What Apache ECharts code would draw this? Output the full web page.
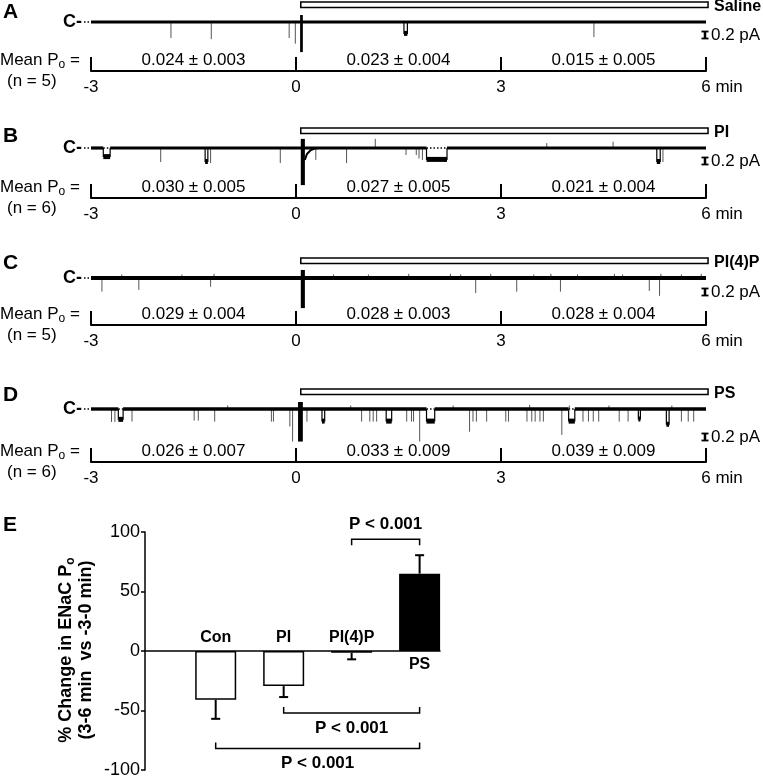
<!DOCTYPE html>
<html><head><meta charset="utf-8">
<script src="https://cdn.jsdelivr.net/npm/echarts@6/dist/echarts.min.js"></script>
<style>html,body{margin:0;padding:0;background:#fff}#c{width:763px;height:779px}</style>
</head><body><div id="c"></div>
<script>
// ================= DATA =================
const panelLetters = ['A', 'B', 'C', 'D'];
const solutions = ['Saline', 'PI', 'PI(4)P', 'PS'];
const nCells = [5, 6, 5, 6];
const periodMidTimes = [-1.5, 1.5, 4.5];           // min
const meanPoSaline = ['0.024 ± 0.003', '0.023 ± 0.004', '0.015 ± 0.005'];
const meanPoPI     = ['0.030 ± 0.005', '0.027 ± 0.005', '0.021 ± 0.004'];
const meanPoPI4P   = ['0.029 ± 0.004', '0.028 ± 0.003', '0.028 ± 0.004'];
const meanPoPS     = ['0.026 ± 0.007', '0.033 ± 0.009', '0.039 ± 0.009'];
const solutionPeriod = [0.07, 6.03];                 // min
const scaleBarPA = 0.2;

// brief openings: [time (min), amplitude (pA, negative = upward)]
const spikesSaline = [[-1.83,0.46],[-1.24,0.49],[-0.10,0.46],[-0.01,0.62],[4.36,0.43]];
const spikesPI = [[-1.98,0.40],[-1.25,0.43],[-0.23,0.43],[0.29,0.34],[0.74,0.43],[1.16,-0.26],[1.61,0.20],[1.76,0.20],[1.80,0.30],[1.85,0.34],[3.67,-0.14],[4.64,-0.18],[5.37,0.40]];
const spikesPI4P = [[-2.84,0.39],[-2.30,0.34],[-1.25,0.25],[2.63,0.43],[3.23,0.39],[3.87,0.39],[5.17,0.37],[5.32,0.51],
  [-2.55,-0.10],[-1.67,-0.10],[-1.20,-0.12],[0.55,-0.10],[1.06,-0.10],[1.65,-0.12],[2.26,-0.12],[2.41,-0.10],[2.85,-0.12],[3.48,-0.10],[3.73,-0.12],[4.12,-0.10],[4.66,-0.12],[4.78,-0.10],[5.34,-0.12],[5.64,-0.10],[5.93,-0.12]];
const spikesPS = [[-2.70,0.37],[-2.65,0.37],[-2.40,0.36],[-1.49,0.33],[-1.43,0.33],[-1.19,0.36],[-0.36,0.36],[-0.33,0.36],[-0.09,0.50],[-0.05,0.93],[0.16,0.36],[0.96,0.36],[1.08,0.36],[1.13,0.36],[1.18,0.36],[1.62,0.36],[1.69,0.36],[1.72,0.36],[1.81,0.93],[2.54,0.65],[2.59,0.36],[2.64,0.36],[2.79,0.36],[3.07,0.36],[3.11,0.36],[3.38,0.36],[3.45,0.36],[3.50,0.36],[3.57,0.36],[3.62,0.36],[3.89,0.74],[4.20,0.36],[4.28,0.36],[4.35,0.36],[4.43,0.36],[4.73,0.36],[4.86,0.36],[5.64,0.36],[5.74,0.36],[5.82,0.36],
  [-1.00,-0.10],[0.80,-0.10],[2.30,-0.10],[3.42,-0.12],[4.00,-0.10],[4.58,-0.10],[5.50,-0.10]];
// longer openings: [start (min), end (min), amplitude (pA), closed level shown dotted (1/0)]
const blocksSaline = [[1.58,1.63,0.34,0]];
const blocksPI = [[-2.82,-2.72,0.26,1],[-1.33,-1.29,0.40,0],[1.91,2.21,0.34,1],[5.28,5.33,0.40,0]];
const blocksPI4P = [];
const blocksPS = [[-2.60,-2.53,0.31,1],[0.38,0.42,0.36,0],[1.32,1.40,0.36,0],[1.91,2.03,0.36,1],[3.99,4.08,0.36,1],[5.01,5.04,0.30,0],[5.42,5.46,0.45,0]];
// perfusion artifact: [start, end, upward extent (pA), downward extent (pA)]
const artifactSaline = [0.06,0.10,0.20,0.86];
const artifactPI = [0.07,0.13,0.26,1.06];
const artifactPI4P = [0.07,0.13,0.23,0.86];
const artifactPS = [0.03,0.10,0.20,0.93];
// capacitive decay after artifact (PI only): [time, amplitude]
const tailPI = [[0.13,0.34],[0.16,0.17],[0.21,0.07],[0.28,0.01],[0.35,0]];

// Panel E
const groups = ['Con', 'PI', 'PI(4)P', 'PS'];
const groupPos = [1, 2, 3, 4];
const pctChange = [-41, -29.5, -1.5, 65];
const pctSEM = [16, 9.2, 5.5, 15.5];
const comparisons = [[3, 4], [2, 4], [1, 4]];
const comparisonP = ['P < 0.001', 'P < 0.001', 'P < 0.001'];
const bracketLevels = [94, -52, -82];

// ================= LAYOUT / STYLE =================
const FONT = "'Liberation Sans', Arial, Helvetica, sans-serif";
const PX_PER_PA = 35;
const layout = [
  {base: 22,  axis: 71,  scaleY: 35,  letterY: 12, noise: 3.2},
  {base: 148, axis: 198, scaleY: 161, letterY: 136, noise: 3.2},
  {base: 278, axis: 325, scaleY: 292, letterY: 263, noise: 3.8},
  {base: 409, axis: 462, scaleY: 437, letterY: 395, noise: 3.4}
];
const panels = [
  {meanPo: meanPoSaline, spikes: spikesSaline, blocks: blocksSaline, artifact: artifactSaline, tail: null},
  {meanPo: meanPoPI, spikes: spikesPI, blocks: blocksPI, artifact: artifactPI, tail: tailPI},
  {meanPo: meanPoPI4P, spikes: spikesPI4P, blocks: blocksPI4P, artifact: artifactPI4P, tail: null},
  {meanPo: meanPoPS, spikes: spikesPS, blocks: blocksPS, artifact: artifactPS, tail: null}
];

function txt(text, extra) {
  return Object.assign({text: text, fill: '#000', fontFamily: FONT, fontSize: 17}, extra || {});
}
function baselineSegments(blocks) {
  const segs = []; let s = -3;
  blocks.filter(b => b[3] === 1).sort((a, b) => a[0] - b[0]).forEach(b => { segs.push([s, b[0]]); s = b[1]; });
  segs.push([s, 6]);
  return segs;
}
const MID = {align: 'left', verticalAlign: 'middle', textAlign: 'left', textVerticalAlign: 'middle'};
const CEN = {align: 'center', verticalAlign: 'middle', textAlign: 'center', textVerticalAlign: 'middle'};

const grids = [], xAxes = [], yAxes = [], series = [], graphics = [];

panels.forEach((p, i) => {
  const L = layout[i];
  const top = L.base - 22;
  grids.push({left: 91, width: 615, top: top, height: L.axis - top});
  xAxes.push({
    gridIndex: i, type: 'value', min: -3, max: 6, interval: 3, position: 'bottom',
    axisLine: {onZero: false, lineStyle: {color: '#000', width: 2}},
    axisTick: {inside: true, length: 14, lineStyle: {color: '#000', width: 2}},
    axisLabel: {color: '#000', fontSize: 17, fontFamily: FONT, margin: 8,
      formatter: v => v === 6 ? '{m|6 min}' : String(v),
      rich: {m: {fontSize: 17, fontFamily: FONT, color: '#000', padding: [0, 0, 0, 32]}}},
    splitLine: {show: false}
  });
  yAxes.push({gridIndex: i, type: 'value', show: false,
    min: -(L.axis - L.base) / PX_PER_PA, max: 22 / PX_PER_PA});

  const ax = {xAxisIndex: i, yAxisIndex: i, coordinateSystem: 'cartesian2d', silent: true};
  // spikes
  series.push(Object.assign({type: 'custom', z: 2, data: p.spikes,
    renderItem: (params, api) => {
      const a = api.coord([api.value(0), 0]), b = api.coord([api.value(0), -api.value(1)]);
      return {type: 'line', shape: {x1: a[0], y1: a[1], x2: b[0], y2: b[1]}, style: {stroke: '#555', lineWidth: 1}};
    }}, ax));
  // baseline (closed level)
  series.push(Object.assign({type: 'custom', z: 3, data: baselineSegments(p.blocks),
    renderItem: (params, api) => {
      const a = api.coord([api.value(0), 0]), b = api.coord([api.value(1), 0]);
      return {type: 'line', shape: {x1: a[0], y1: a[1], x2: b[0], y2: b[1]}, style: {stroke: '#000', lineWidth: L.noise}};
    }}, ax));
  // long openings
  series.push(Object.assign({type: 'custom', z: 3, data: p.blocks,
    renderItem: (params, api) => {
      const t1 = api.value(0), t2 = api.value(1), d = api.value(2), dotted = api.value(3);
      const a0 = api.coord([t1, 0]), a1 = api.coord([t1, -d]), b0 = api.coord([t2, 0]), b1 = api.coord([t2, -d]);
      const ch = [
        {type: 'line', shape: {x1: a0[0], y1: a0[1], x2: a1[0], y2: a1[1]}, style: {stroke: '#000', lineWidth: 1.2}},
        {type: 'line', shape: {x1: b0[0], y1: b0[1], x2: b1[0], y2: b1[1]}, style: {stroke: '#000', lineWidth: 1.2}},
        {type: 'rect', shape: {x: a1[0], y: a1[1] - 3, width: Math.max(b1[0] - a1[0], 2), height: 5}, style: {fill: '#000'}}
      ];
      if (dotted) ch.push({type: 'line', shape: {x1: a0[0], y1: a0[1], x2: b0[0], y2: b0[1]}, style: {stroke: '#000', lineWidth: 1.5, lineDash: [1.5, 2]}});
      return {type: 'group', children: ch};
    }}, ax));
  // perfusion artifact
  series.push(Object.assign({type: 'custom', z: 4, data: [p.artifact],
    renderItem: (params, api) => {
      const a = api.coord([api.value(0), api.value(2)]), b = api.coord([api.value(1), -api.value(3)]);
      return {type: 'rect', shape: {x: a[0], y: a[1], width: b[0] - a[0], height: b[1] - a[1]}, style: {fill: '#000'}};
    }}, ax));
  if (p.tail) series.push(Object.assign({type: 'line', z: 4, data: p.tail.map(q => [q[0], -q[1]]),
    symbol: 'none', lineStyle: {color: '#000', width: 2}}, ax));
  // solution application bar + scale bar
  series.push(Object.assign({type: 'custom', z: 5, data: [solutionPeriod],
    renderItem: (params, api) => {
      const a = api.coord([api.value(0), 0]), b = api.coord([api.value(1), 0]);
      const h = api.size([0, scaleBarPA])[1];
      const sx = api.coord([6, 0])[0] - 1, cy = L.scaleY;
      return {type: 'group', children: [
        {type: 'rect', shape: {x: a[0], y: a[1] - 20, width: b[0] - a[0], height: 5.5}, style: {fill: '#fff', stroke: '#000', lineWidth: 1.5}},
        {type: 'text', x: b[0] + 6, y: a[1] - 15, style: txt(solutions[i], Object.assign({fontSize: 16, fontWeight: 'bold'}, MID))},
        {type: 'line', shape: {x1: sx, y1: cy - h / 2, x2: sx, y2: cy + h / 2}, style: {stroke: '#000', lineWidth: 2.5}},
        {type: 'line', shape: {x1: sx - 3.5, y1: cy - h / 2, x2: sx + 3.5, y2: cy - h / 2}, style: {stroke: '#000', lineWidth: 1.8}},
        {type: 'line', shape: {x1: sx - 3.5, y1: cy + h / 2, x2: sx + 3.5, y2: cy + h / 2}, style: {stroke: '#000', lineWidth: 1.8}},
        {type: 'text', x: sx + 6, y: cy, style: txt(scaleBarPA + ' pA', MID)}
      ]};
    }}, ax));
  // mean Po values
  series.push(Object.assign({type: 'custom', z: 5, data: periodMidTimes.map(t => [t, 0]),
    renderItem: (params, api) => {
      const a = api.coord([api.value(0), 0]);
      return {type: 'text', x: a[0], y: L.axis - 11, style: txt(p.meanPo[params.dataIndex], CEN)};
    }}, ax));

  // static texts
  graphics.push({type: 'text', x: 3, y: L.letterY, style: txt(panelLetters[i], Object.assign({fontSize: 21, fontWeight: 'bold'}, MID))});
  graphics.push({type: 'text', x: 82, y: L.base, style: txt('C-', {fontSize: 18, fontWeight: 'bold', align: 'right', verticalAlign: 'middle', textAlign: 'right', textVerticalAlign: 'middle'})});
  graphics.push({type: 'line', shape: {x1: 84, y1: L.base, x2: 91, y2: L.base}, style: {stroke: '#000', lineWidth: 1.5, lineDash: [1.5, 2]}});
  graphics.push({type: 'text', x: 0, y: L.axis - 11, style: txt('Mean P{s|o} =', Object.assign({
    rich: {s: {fontSize: 12, fontFamily: FONT, fill: '#000', lineHeight: 12, padding: [10, 0, 0, 0]}}}, MID))});
  graphics.push({type: 'text', x: 7, y: L.axis + 10, style: txt('(n = ' + nCells[i] + ')', MID)});
});

// ---------- Panel E ----------
const gi = 4;
grids.push({left: 145, width: 295, top: 532, height: 239});
xAxes.push({gridIndex: gi, type: 'value', min: -0.04, max: 4.3,
  axisLine: {onZero: true, lineStyle: {color: '#000', width: 1.5}}, axisTick: {show: false}, axisLabel: {show: false}, splitLine: {show: false}});
yAxes.push({gridIndex: gi, type: 'value', min: -100, max: 100, interval: 50,
  axisLine: {show: true, onZero: false, lineStyle: {color: '#000', width: 1.5}},
  axisTick: {show: true, length: 4, lineStyle: {color: '#000', width: 1.5}},
  axisLabel: {color: '#000', fontSize: 18, fontFamily: FONT, margin: 5}, splitLine: {show: false}});
const axE = {xAxisIndex: gi, yAxisIndex: gi, silent: true};
series.push(Object.assign({type: 'bar', barWidth: 41, z: 2,
  data: groupPos.map((x, k) => ({value: [x, pctChange[k]],
    itemStyle: {color: k === 3 ? '#000' : '#fff', borderColor: '#000', borderWidth: 1.5}}))}, axE));
series.push(Object.assign({type: 'custom', coordinateSystem: 'cartesian2d', z: 3,
  data: groupPos.map((x, k) => [x, pctChange[k], pctSEM[k]]),
  renderItem: (params, api) => {
    const m = api.value(1), e = m + Math.sign(m) * api.value(2);
    const a = api.coord([api.value(0), m]), b = api.coord([api.value(0), e]);
    return {type: 'group', children: [
      {type: 'line', shape: {x1: a[0], y1: a[1], x2: b[0], y2: b[1]}, style: {stroke: '#000', lineWidth: 2}},
      {type: 'line', shape: {x1: b[0] - 4.5, y1: b[1], x2: b[0] + 4.5, y2: b[1]}, style: {stroke: '#000', lineWidth: 2}}
    ]};
  }}, axE));
series.push(Object.assign({type: 'custom', coordinateSystem: 'cartesian2d', z: 3,
  data: groupPos.map((x, k) => [x, pctChange[k]]),
  renderItem: (params, api) => {
    const a = api.coord([api.value(0), 0]);
    const y = api.value(1) < 0 ? a[1] - 13 : a[1] + 14;
    return {type: 'text', x: a[0], y: y, style: txt(groups[params.dataIndex], Object.assign({fontSize: 16, fontWeight: 'bold'}, CEN))};
  }}, axE));
series.push(Object.assign({type: 'custom', coordinateSystem: 'cartesian2d', z: 3,
  data: comparisons.map((c, k) => [c[0], bracketLevels[k], c[1]]),
  renderItem: (params, api) => {
    const lv = api.value(1), dir = lv > 0 ? 1 : -1;
    const a = api.coord([api.value(0), lv]), b = api.coord([api.value(2), lv]);
    return {type: 'group', children: [
      {type: 'polyline', shape: {points: [[a[0], a[1] + dir * 6], [a[0], a[1]], [b[0], b[1]], [b[0], b[1] + dir * 6]]}, style: {stroke: '#000', lineWidth: 1.5, fill: null}},
      {type: 'text', x: (a[0] + b[0]) / 2, y: a[1] - dir * 15, style: txt(comparisonP[params.dataIndex], Object.assign({fontWeight: 'bold'}, CEN))}
    ]};
  }}, axE));

graphics.push({type: 'text', x: 3, y: 525, style: txt('E', Object.assign({fontSize: 21, fontWeight: 'bold'}, MID))});
graphics.push({type: 'text', x: 66, y: 650, rotation: Math.PI / 2,
  style: txt('% Change in ENaC P{s|o}', Object.assign({fontSize: 18, fontWeight: 'bold',
    rich: {s: {fontSize: 12, fontWeight: 'bold', fontFamily: FONT, fill: '#000', lineHeight: 12, padding: [10, 0, 0, 0]}}}, CEN))});
graphics.push({type: 'text', x: 86, y: 650, rotation: Math.PI / 2,
  style: txt('(3-6 min  vs -3-0 min)', Object.assign({fontSize: 18, fontWeight: 'bold'}, CEN))});

const chart = echarts.init(document.getElementById('c'), null, {renderer: 'canvas'});
chart.setOption({
  animation: false,
  backgroundColor: '#fff',
  textStyle: {fontFamily: FONT},
  grid: grids, xAxis: xAxes, yAxis: yAxes, series: series,
  graphic: graphics
});
</script></body></html>
